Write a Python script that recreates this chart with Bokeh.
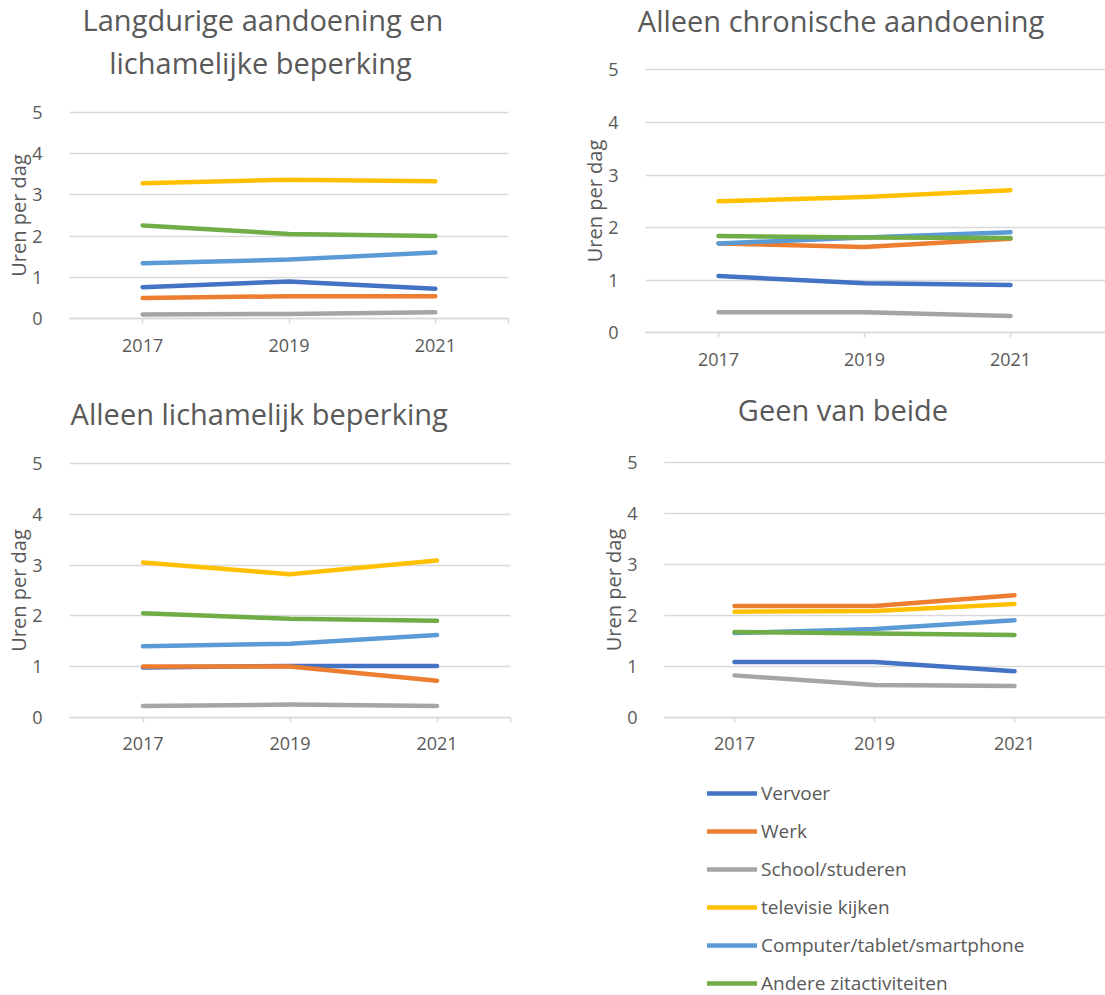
import re

from bokeh.plotting import figure
from bokeh.models import Range1d, FixedTicker, Label, Legend, LegendItem, Grid
from bokeh.layouts import column, row
from bokeh.embed import file_html
from bokeh.resources import INLINE

# ---- data -------------------------------------------------------------
years = [2017, 2019, 2021]

group_titles = [
    ["Langdurige aandoening en", "lichamelijke beperking"],
    ["Alleen chronische aandoening"],
    ["Alleen lichamelijk beperking"],
    ["Geen van beide"],
]

activities = [
    "Vervoer",
    "Werk",
    "School/studeren",
    "televisie kijken",
    "Computer/tablet/smartphone",
    "Andere zitactiviteiten",
]

# hours per day, one row per group (same order as group_titles)
vervoer = [[0.76, 0.90, 0.72], [1.08, 0.94, 0.91], [0.98, 1.01, 1.01], [1.08, 1.08, 0.90]]
werk = [[0.50, 0.54, 0.54], [1.70, 1.63, 1.79], [1.00, 1.00, 0.72], [2.18, 2.18, 2.39]]
school = [[0.10, 0.11, 0.15], [0.39, 0.39, 0.32], [0.22, 0.25, 0.22], [0.82, 0.63, 0.61]]
televisie = [[3.28, 3.37, 3.33], [2.50, 2.58, 2.71], [3.05, 2.82, 3.09], [2.07, 2.08, 2.22]]
computer = [[1.34, 1.43, 1.60], [1.70, 1.81, 1.91], [1.40, 1.45, 1.62], [1.65, 1.73, 1.90]]
andere = [[2.26, 2.05, 2.00], [1.84, 1.81, 1.80], [2.05, 1.94, 1.90], [1.67, 1.64, 1.61]]

y_ticks = [0, 1, 2, 3, 4, 5]

# ---- styling ----------------------------------------------------------
series = [vervoer, werk, school, televisie, computer, andere]
colors = ["#4472C4", "#ED7D31", "#A5A5A5", "#FFC000", "#5B9BD5", "#70AD47"]
FONT = "Open Sans"
TEXT = "#595959"
GRID = "#D9D9D9"

# Each panel is a figure whose frame fills the whole canvas; the chart box
# inside it is placed through the ranges (page pixels of the 2016 edge and of
# the zero line, plus pixels per year / per hour).
panel_geom = [
    dict(left=0, top=0, w=555, h=385, x0=69, ppy=73.17, y0=318.0, ppu=41.2,
         x_right=2022, edge_tick=True, titles=[(262.5, 18.7), (260.0, 61.7)]),
    dict(left=555, top=0, w=550, h=385, x0=645, ppy=73.0, y0=332.3, ppu=52.6,
         x_right=None, edge_tick=False, titles=[(840.5, 20.0)]),
    dict(left=0, top=385, w=555, h=610, x0=69, ppy=73.5, y0=716.7, ppu=50.7,
         x_right=2022, edge_tick=True, titles=[(258.7, 412.7)]),
    dict(left=555, top=385, w=550, h=610, x0=664, ppy=70.0, y0=716.7, ppu=51.0,
         x_right=None, edge_tick=False, titles=[(842.5, 409.0)]),
]

has_cross_bounds = "cross_bounds" in Grid.properties()


def make_panel(idx):
    g = panel_geom[idx]
    x_start = 2016 - (g["x0"] - g["left"]) / g["ppy"]
    x_end = x_start + g["w"] / g["ppy"]
    y_start = -(g["top"] + g["h"] - g["y0"]) / g["ppu"]
    y_end = y_start + g["h"] / g["ppu"]
    x_right = g["x_right"] if g["x_right"] is not None else x_end

    p = figure(
        width=g["w"], height=g["h"],
        x_range=Range1d(x_start, x_end), y_range=Range1d(y_start, y_end),
        output_backend="svg", toolbar_location=None,
        min_border_left=0, min_border_right=0, min_border_top=0, min_border_bottom=0,
        outline_line_color=None, background_fill_color="white",
        border_fill_color="white",
    )
    p.title.visible = False

    # horizontal grid lines at whole hours, only across the chart box
    p.xgrid.visible = False
    p.ygrid.ticker = FixedTicker(ticks=y_ticks)
    p.ygrid.grid_line_color = GRID
    p.ygrid.grid_line_width = 1.5
    if has_cross_bounds:
        p.ygrid.cross_bounds = (2016, x_right)

    # value axis pinned to the left edge of the chart box
    ya = p.yaxis[0]
    ya.fixed_location = 2016
    ya.bounds = (0, 5)
    ya.ticker = FixedTicker(ticks=y_ticks)
    ya.axis_line_color = None
    ya.major_tick_line_color = None
    ya.minor_tick_line_color = None
    ya.major_label_standoff = 21
    ya.major_label_text_font = FONT
    ya.major_label_text_font_size = "18px"
    ya.major_label_text_color = TEXT
    ya.axis_label = "Uren per dag"
    ya.axis_label_text_font = FONT
    ya.axis_label_text_font_size = "20px"
    ya.axis_label_text_font_style = "normal"
    ya.axis_label_text_color = TEXT
    ya.axis_label_standoff = -3

    # year axis pinned to zero hours
    xa = p.xaxis[0]
    xa.fixed_location = 0
    xa.bounds = (2016, x_right)
    ticks = list(years) + ([2022] if g["edge_tick"] else [])
    xa.ticker = FixedTicker(ticks=ticks)
    overrides = {y: str(y) for y in years}
    if g["edge_tick"]:
        overrides[2022] = ""
    xa.major_label_overrides = overrides
    xa.axis_line_color = GRID
    xa.axis_line_width = 1.5
    xa.major_tick_line_color = GRID
    xa.major_tick_line_width = 1.5
    xa.major_tick_out = 5
    xa.major_tick_in = 0
    xa.minor_tick_line_color = None
    xa.major_label_standoff = 15
    xa.major_label_text_font = FONT
    xa.major_label_text_font_size = "18px"
    xa.major_label_text_color = TEXT

    renderers = []
    for values, color in zip(series, colors):
        r = p.line(years, values[idx], line_color=color, line_width=4.5,
                   line_cap="round", line_join="round")
        renderers.append(r)

    # panel title (screen units measured from the frame's bottom-left corner)
    for text, (cx, base) in zip(group_titles[idx], g["titles"]):
        p.add_layout(Label(
            x=cx - g["left"], y=g["top"] + g["h"] - base,
            x_units="screen", y_units="screen",
            text=text, text_align="center", text_baseline="alphabetic",
            text_font=FONT, text_font_size="29px", text_color=TEXT,
        ))
    return p, renderers


panels = []
last_renderers = None
for i in range(4):
    fig, rs = make_panel(i)
    panels.append(fig)
    last_renderers = rs

# shared legend under the last panel
g4 = panel_geom[3]
legend_left = 707
legend_top = 793.3 - 13
legend_height = 6 * 26 + 5 * 12
legend = Legend(
    items=[LegendItem(label=name, renderers=[r]) for name, r in zip(activities, last_renderers)],
    location=(legend_left - g4["left"], g4["top"] + g4["h"] - (legend_top + legend_height)),
    orientation="vertical",
    glyph_width=50, glyph_height=26, label_height=26, spacing=12,
    padding=0, margin=0, label_standoff=4,
    border_line_color=None, background_fill_alpha=0,
    label_text_font=FONT, label_text_font_size="19px", label_text_color=TEXT,
)
panels[3].add_layout(legend)

page = row(column(panels[0], panels[2]), column(panels[1], panels[3]))

html = file_html(page, INLINE)
html = re.sub(r"<body([^>]*)>", r'<body\1 style="margin:0;overflow:hidden">', html, count=1)
open("out.html", "w").write(html)
